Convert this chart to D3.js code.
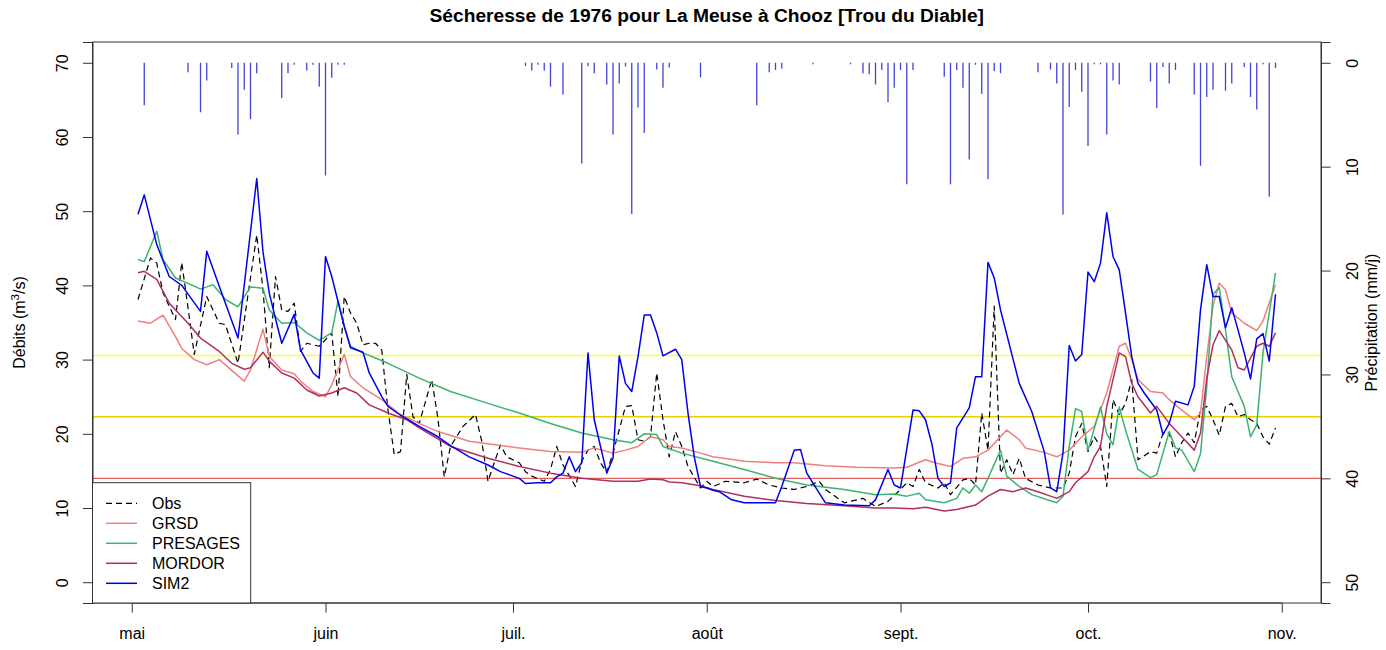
<!DOCTYPE html>
<html>
<head>
<meta charset="utf-8">
<script src="https://cdn.jsdelivr.net/npm/d3@7"></script>
<style>
  body { margin: 0; background: #fff; }
  svg { display: block; }
  text { font-family: "Liberation Sans", Arial, sans-serif; fill: #000; }
</style>
</head>
<body>
<svg id="chart" width="1386" height="650"></svg>
<script>
// Days are counted from 1 May 1976 (day 0); the record runs 2 May – 31 Oct.
const firstDay = 1, lastDay = 183;

const monthTicks  = [0, 31, 61, 92, 123, 153, 184];
const monthLabels = ["mai", "juin", "juil.", "août", "sept.", "oct.", "nov."];
const flowTicks   = [0, 10, 20, 30, 40, 50, 60, 70];
const rainTicks   = [0, 10, 20, 30, 40, 50];

// Reference discharge levels (m3/s)
const thresholdValues = [30.56, 22.3, 14.0];

// Observed discharge [day, m3/s]
const obs = [[1,38.1],[3,43.7],[4,43.0],[5,39.0],[7,35.4],[8,43.1],[9,37.0],[10,30.7],[12,38.5],[14,34.9],[15,34.7],
  [17,29.5],[20,46.8],[21,39.4],[22,28.9],[23,41.2],[24,36.7],[25,36.5],[26,37.6],[27,31.1],[28,32.2],[30,31.8],
  [32,33.6],[33,25.0],[34,38.5],[35,36.3],[36,34.9],[37,32.0],[38,32.2],[39,32.2],[40,31.3],[41,23.2],[42,17.2],
  [43,17.6],[44,28.0],[45,22.3],[46,21.4],[48,27.3],[49,22.0],[50,14.2],[51,18.3],[53,21.0],[55,22.6],[56,19.0],
  [57,13.6],[58,16.1],[59,18.5],[60,16.9],[62,16.1],[63,14.9],[64,14.3],[66,13.6],[67,15.2],[68,18.3],[69,15.8],
  [71,12.9],[72,16.3],[73,17.8],[74,18.3],[75,16.1],[76,14.8],[77,17.4],[79,23.7],[80,23.8],[81,19.2],[82,19.0],
  [83,19.6],[84,28.2],[85,21.9],[86,16.9],[87,20.3],[88,18.3],[89,15.6],[91,12.7],[92,13.6],[93,12.9],[95,13.6],
  [98,13.4],[100,13.9],[102,13.1],[104,12.7],[106,12.5],[108,12.9],[110,13.6],[111,12.5],[114,10.7],[117,11.3],
  [119,10.2],[121,10.9],[123,12.5],[124,13.4],[125,12.9],[126,15.2],[127,13.4],[129,12.7],[130,13.4],[131,11.8],
  [133,13.8],[134,14.0],[135,13.1],[136,22.8],[137,17.8],[138,37.2],[139,14.7],[140,16.5],[141,14.5],[142,16.7],
  [143,14.0],[145,13.1],[147,12.7],[148,12.7],[149,12.7],[150,14.7],[151,19.6],[152,21.4],[153,17.6],[154,19.6],
  [155,18.3],[156,12.9],[157,24.6],[158,22.6],[159,24.1],[160,27.3],[161,16.5],[163,17.6],[164,17.4],[165,20.1],
  [166,20.1],[167,16.9],[168,18.8],[169,20.1],[170,18.8],[171,23.2],[172,23.7],[173,21.9],[174,19.8],[175,23.7],
  [176,24.1],[177,22.3],[178,22.6],[179,21.9],[180,21.4],[181,19.6],[182,18.6],[183,20.8]];

// Simulated discharge, GRSD model
const grsd = [[1,35.2],[3,34.9],[5,36.0],[7,33.1],[8,31.5],[10,30.0],[12,29.3],[14,30.0],[18,27.1],[19,28.6],
  [21,34.1],[22,30.4],[24,28.6],[26,28.1],[27,27.1],[29,25.7],[31,25.0],[32,26.6],[34,30.7],[35,27.7],[37,26.2],
  [40,24.6],[43,22.6],[46,21.4],[49,20.3],[54,19.0],[62,18.1],[67,17.6],[72,17.5],[74,18.1],[77,17.4],[79,17.8],
  [81,18.3],[83,19.6],[85,19.2],[86,18.3],[88,18.1],[91,17.4],[93,16.9],[98,16.3],[103,16.1],[106,16.1],
  [111,15.7],[116,15.5],[122,15.4],[124,15.5],[127,16.5],[129,16.0],[131,15.6],[133,16.7],[135,16.9],[137,17.8],
  [140,20.5],[142,19.2],[143,18.1],[146,17.5],[148,16.9],[150,17.8],[152,19.6],[154,21.0],[156,25.5],[158,31.8],
  [159,32.2],[160,30.0],[161,27.3],[163,25.7],[165,25.5],[166,24.6],[168,23.2],[170,21.9],[171,22.8],[172,30.4],
  [173,37.2],[174,40.3],[175,39.4],[176,36.3],[178,34.9],[180,33.9],[181,35.2],[183,40.1]];

// Simulated discharge, PRESAGES model
const presages = [[1,43.5],[2,43.2],[4,47.3],[5,43.5],[7,41.0],[10,39.9],[11,39.5],[13,40.1],[15,38.1],[17,37.1],
  [19,39.8],[21,39.6],[22,36.7],[24,34.9],[26,35.0],[28,33.6],[30,32.6],[32,33.6],[33,37.9],[34,34.5],[35,31.8],
  [37,30.9],[41,29.5],[46,27.5],[51,25.7],[57,24.1],[62,22.8],[67,21.4],[72,20.1],[77,19.2],[80,18.8],[82,20.0],
  [84,19.9],[85,18.3],[88,17.4],[93,16.3],[98,15.2],[103,14.0],[108,13.1],[114,12.5],[119,11.8],[122,11.9],
  [124,11.6],[126,12.0],[127,11.1],[130,10.7],[132,11.3],[133,12.7],[134,12.0],[135,13.1],[136,12.2],[137,14.0],
  [139,17.8],[140,14.3],[142,12.9],[144,11.8],[148,10.7],[149,11.6],[150,18.3],[151,23.4],[152,23.0],[153,17.8],
  [155,23.6],[156,20.0],[157,18.5],[158,23.6],[159,20.5],[161,15.2],[163,14.1],[164,14.5],[166,20.3],[167,18.1],
  [168,17.8],[170,14.9],[171,17.3],[172,26.4],[173,38.8],[174,39.7],[175,34.0],[176,27.7],[178,23.7],[179,19.6],
  [180,21.2],[181,30.9],[183,41.7]];

// Simulated discharge, MORDOR model
const mordor = [[1,41.7],[2,41.9],[4,40.8],[6,37.6],[9,34.9],[11,32.9],[14,31.1],[16,29.5],[18,28.7],[19,28.9],
  [21,31.0],[22,29.8],[24,28.2],[26,27.5],[28,25.9],[30,25.1],[32,25.5],[34,26.2],[36,25.5],[38,23.9],[41,22.8],
  [44,21.9],[46,20.8],[51,18.3],[57,16.7],[62,15.6],[67,14.7],[72,14.0],[77,13.6],[81,13.6],[83,13.9],[85,13.8],
  [86,13.5],[88,13.4],[91,13.0],[93,12.5],[98,11.6],[103,11.0],[108,10.6],[114,10.3],[119,10.0],[122,10.0],
  [125,9.9],[127,10.1],[130,9.6],[132,9.8],[134,10.2],[135,10.4],[137,11.6],[139,12.5],[141,12.2],[143,12.7],
  [145,12.2],[147,11.6],[148,11.3],[150,12.2],[151,13.4],[153,14.9],[154,16.9],[155,18.3],[156,23.7],[158,30.9],
  [159,30.4],[160,26.8],[161,25.0],[163,22.8],[164,23.7],[166,21.4],[168,19.6],[170,17.8],[171,20.1],[172,27.5],
  [173,32.0],[174,33.9],[176,31.3],[177,28.9],[178,28.6],[179,30.2],[180,31.8],[181,32.2],[182,31.8],[183,33.6]];

// Simulated discharge, SIM2 model
const sim2 = [[1,49.6],[2,52.2],[4,45.5],[6,41.2],[8,40.0],[11,36.5],[12,44.6],[14,39.9],[17,32.9],[20,54.4],
  [21,44.5],[22,39.0],[23,35.5],[24,32.2],[26,36.1],[27,31.3],[29,28.2],[30,27.5],[31,43.9],[32,41.2],[34,34.5],
  [35,31.6],[37,31.0],[38,28.2],[40,25.0],[41,23.7],[43,22.5],[46,21.0],[49,19.6],[51,18.4],[54,16.9],[57,15.8],
  [59,14.9],[62,14.0],[63,13.3],[65,13.4],[67,13.4],[68,14.2],[69,14.7],[70,16.9],[71,14.9],[72,16.1],[73,30.9],
  [74,21.9],[76,14.7],[77,16.7],[78,30.5],[79,26.8],[80,25.7],[81,30.4],[82,36.0],[83,36.0],[84,33.6],[85,30.5],
  [87,31.4],[88,30.0],[89,22.8],[90,16.9],[91,12.9],[92,12.7],[93,12.4],[94,12.2],[96,11.1],[98,10.7],[103,10.7],
  [104,12.9],[106,17.8],[107,17.9],[108,14.7],[110,12.0],[111,10.7],[114,10.4],[118,10.3],[119,11.1],[121,15.2],
  [122,13.1],[123,12.7],[125,23.2],[126,23.1],[127,21.9],[128,18.7],[129,14.0],[130,12.9],[131,13.4],[132,20.8],
  [134,23.5],[135,27.7],[136,27.7],[137,43.1],[138,41.0],[139,36.7],[142,26.8],[144,23.0],[146,17.6],[147,12.7],
  [148,12.2],[149,17.4],[150,31.9],[151,29.8],[152,30.7],[153,41.8],[154,40.5],[155,43.0],[156,49.8],[157,43.9],
  [158,42.1],[159,36.3],[160,30.4],[161,26.8],[162,25.5],[164,23.2],[165,19.9],[166,21.4],[167,24.4],[169,23.9],
  [170,26.4],[171,36.7],[172,42.8],[173,38.5],[174,38.5],[175,34.3],[176,37.0],[177,34.0],[178,30.9],[179,27.4],
  [180,32.8],[181,33.5],[182,29.8],[183,38.8]];

// Daily precipitation [day, mm/j]
const precip = [[2,4.1],[9,0.9],[11,4.75],[12,1.7],[16,0.5],[17,6.9],[18,2.6],[19,5.4],[20,1.0],[24,3.4],[25,1.0],
  [26,0.2],[28,0.75],[29,0.2],[30,2.3],[31,10.85],[32,1.45],[33,0.2],[34,0.2],[63,0.3],[64,0.75],[65,0.2],[66,0.75],
  [67,2.3],[69,3.05],[72,9.7],[73,0.3],[74,1.0],[76,2.1],[77,6.9],[78,2.0],[79,0.35],[80,14.55],[81,4.3],[82,6.75],
  [84,0.65],[85,2.4],[86,0.45],[91,1.4],[100,4.1],[102,0.9],[103,0.7],[104,0.55],[109,0.15],[115,0.15],[117,1.0],
  [118,1.1],[119,2.1],[120,0.7],[121,3.8],[122,2.4],[123,0.7],[124,11.7],[125,0.7],[130,1.35],[131,11.7],[132,0.7],
  [133,2.4],[134,9.3],[135,0.2],[136,3.0],[137,11.2],[138,0.8],[139,1.0],[145,0.9],[147,0.65],[148,2.0],[149,14.6],
  [150,4.25],[151,0.7],[152,2.8],[153,8.0],[154,0.15],[155,0.15],[156,6.9],[157,1.7],[158,2.1],[163,1.8],[164,4.35],
  [165,0.4],[166,2.0],[167,0.7],[170,3.05],[171,9.9],[172,3.3],[173,2.6],[175,2.7],[176,2.0],[178,0.4],[179,3.3],
  [180,4.5],[181,0.15],[182,12.9],[183,0.5]];

const seriesNames = ["Obs", "GRSD", "PRESAGES", "MORDOR", "SIM2"];

// ---- layout and styling ----
const plot = { left: 92.5, right: 1321, top: 42, bottom: 603 };
const colors = { Obs: "#000000", GRSD: "#f08080", PRESAGES: "#3cb371", MORDOR: "#b03060", SIM2: "#0000ee" };
const thresholdColors = ["#ffff33", "#e8d200", "#e06060"];
const rainColor = "#4343d6";
const font = '"Liberation Sans", Arial, sans-serif';

const svg = d3.select("#chart");

// R-style 4% padding on both data ranges
const pad = (a, b) => [a - 0.04 * (b - a), b + 0.04 * (b - a)];
const x = d3.scaleLinear().domain(pad(firstDay, lastDay)).range([plot.left, plot.right]);
const y = d3.scaleLinear().domain(pad(0, 70)).range([plot.bottom, plot.top]);
const yRain = d3.scaleLinear().domain(pad(0, 50).reverse()).range([plot.bottom, plot.top]);

svg.append("defs").append("clipPath").attr("id", "plotClip")
  .append("rect").attr("x", plot.left).attr("y", plot.top)
  .attr("width", plot.right - plot.left).attr("height", plot.bottom - plot.top);

const g = svg.append("g").attr("clip-path", "url(#plotClip)");

// precipitation hanging from the top
g.append("g").selectAll("line").data(precip).join("line")
  .attr("x1", d => x(d[0])).attr("x2", d => x(d[0]))
  .attr("y1", yRain(0)).attr("y2", d => yRain(d[1]))
  .attr("stroke", rainColor).attr("stroke-width", 1.3);

// threshold levels
g.append("g").selectAll("line").data(thresholdValues).join("line")
  .attr("x1", plot.left).attr("x2", plot.right)
  .attr("y1", d => y(d)).attr("y2", d => y(d))
  .attr("stroke", (d, i) => thresholdColors[i]).attr("stroke-width", 1.4);

const line = d3.line().x(d => x(d[0])).y(d => y(d[1]));
const seriesData = { Obs: obs, GRSD: grsd, PRESAGES: presages, MORDOR: mordor, SIM2: sim2 };
seriesNames.forEach(name => {
  g.append("path").datum(seriesData[name])
    .attr("d", line).attr("fill", "none")
    .attr("stroke", colors[name])
    .attr("stroke-width", name === "Obs" ? 1.2 : 1.5)
    .attr("stroke-dasharray", name === "Obs" ? "6,4" : null)
    .attr("stroke-linejoin", "round");
});

// frame
svg.append("rect").attr("x", plot.left).attr("y", plot.top)
  .attr("width", plot.right - plot.left).attr("height", plot.bottom - plot.top)
  .attr("fill", "none").attr("stroke", "#333").attr("stroke-width", 1);

const tickLen = 9.6;

// bottom axis (months)
const xAxis = svg.append("g").attr("transform", `translate(0,${plot.bottom})`)
  .call(d3.axisBottom(x).tickValues(monthTicks).tickSize(tickLen)
        .tickFormat((d, i) => monthLabels[i]));
xAxis.select(".domain").attr("d", `M${x(monthTicks[0])},0H${x(monthTicks[monthTicks.length - 1])}`);
xAxis.selectAll("text").attr("y", 36).attr("dy", null)
  .style("font-family", font).style("font-size", "16px").attr("fill", "#000");

// left axis (discharge)
const yAxis = svg.append("g").attr("transform", `translate(${plot.left},0)`)
  .call(d3.axisLeft(y).tickValues(flowTicks).tickSize(tickLen));
yAxis.selectAll("text").attr("x", null).attr("dy", null).attr("text-anchor", "middle")
  .attr("transform", "translate(-25,0) rotate(-90)")
  .style("font-family", font).style("font-size", "16px").attr("fill", "#000");

// right axis (precipitation, reversed)
const rAxis = svg.append("g").attr("transform", `translate(${plot.right},0)`)
  .call(d3.axisRight(yRain).tickValues(rainTicks).tickSize(tickLen));
rAxis.selectAll("text").attr("x", null).attr("dy", null).attr("text-anchor", "middle")
  .attr("transform", "translate(36.5,0) rotate(-90)")
  .style("font-family", font).style("font-size", "16px").attr("fill", "#000");

svg.selectAll(".domain, .tick line").attr("stroke", "#333");

// titles
const midY = (plot.top + plot.bottom) / 2;
svg.append("text").attr("x", (plot.left + plot.right) / 2).attr("y", 21.5)
  .attr("text-anchor", "middle").style("font-size", "19.2px").style("font-weight", "bold")
  .text("Sécheresse de 1976 pour La Meuse à Chooz [Trou du Diable]");

const yl = svg.append("text").attr("text-anchor", "middle")
  .attr("transform", `translate(24.5,${midY}) rotate(-90)`).style("font-size", "16px");
yl.append("tspan").text("Débits (m");
yl.append("tspan").text("3").attr("dy", -6).style("font-size", "11.5px");
yl.append("tspan").text("/s)").attr("dy", 6);

svg.append("text").attr("text-anchor", "middle")
  .attr("transform", `translate(1377,${midY}) rotate(-90)`).style("font-size", "16px")
  .text("Précipitation (mm/j)");

// legend
const leg = svg.append("g");
leg.append("rect").attr("x", plot.left).attr("y", 482.7)
  .attr("width", 250.7 - plot.left).attr("height", plot.bottom - 482.7)
  .attr("fill", "#fff").attr("stroke", "#333").attr("stroke-width", 1);
seriesNames.forEach((name, i) => {
  const cy = 503.3 + i * 20;
  leg.append("line").attr("x1", 106).attr("x2", 137).attr("y1", cy).attr("y2", cy)
    .attr("stroke", colors[name]).attr("stroke-width", name === "Obs" ? 1.2 : 1.5)
    .attr("stroke-dasharray", name === "Obs" ? "6,4" : null);
  leg.append("text").attr("x", 152).attr("y", cy + 5.8).style("font-size", "16px").text(name);
});
</script>
</body>
</html>
